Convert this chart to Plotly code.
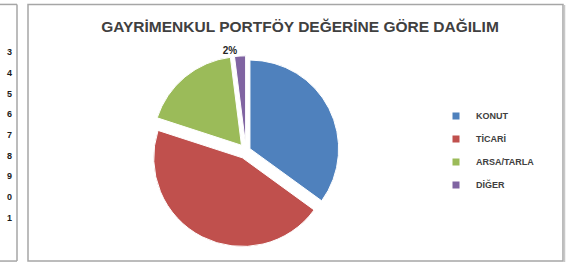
import plotly.graph_objects as go

W, H = 576, 268

# ---- data ----
categories = ["KONUT", "TİCARİ", "ARSA/TARLA", "DİĞER"]
values = [35, 45, 18, 2]
colors = ["#4F81BD", "#C0504D", "#9BBB59", "#8064A2"]
label_shown = ["none", "none", "none", "outside"]
pulls = [0.05, 0.09, 0.08, 0.07]
title_text = "GAYRİMENKUL PORTFÖY DEĞERİNE GÖRE DAĞILIM"
side_labels = ["3", "4", "5", "6", "7", "8", "9", "0", "1"]


def X(px):
    return px / W


def Y(py):
    return 1 - py / H


fig = go.Figure()

# pie geometry (pixels)
cx, cy, R = 246, 153, 90
half = R * (1 + max(pulls))

fig.add_trace(go.Pie(
    labels=categories, values=values, sort=False, direction="clockwise",
    rotation=0, pull=pulls,
    marker=dict(colors=colors, line=dict(color="white", width=1)),
    textinfo="percent", textposition=label_shown,
    outsidetextfont=dict(family="Liberation Sans", size=10, color="#262626", weight="bold"),
    domain=dict(x=[X(cx - half), X(cx + half)], y=[Y(cy + half), Y(cy - half)]),
    showlegend=False, hoverinfo="label+percent",
))

# legend entries
for name, col in zip(categories, colors):
    fig.add_trace(go.Scatter(
        x=[None], y=[None], mode="markers", name=name, legendgroup=name,
        marker=dict(symbol="square", size=7, color=col),
    ))

shapes = []
line_col = "#A6A6A6"
# chart frame
shapes.append(dict(type="rect", xref="paper", yref="paper",
                   x0=X(28), x1=X(563), y0=Y(265), y1=Y(4.5),
                   line=dict(color=line_col, width=1.5), fillcolor="rgba(0,0,0,0)"))
shapes.append(dict(type="line", xref="paper", yref="paper",
                   x0=X(564.5), x1=X(564.5), y0=Y(266), y1=Y(5),
                   line=dict(color="#C8C8C8", width=1.5)))
# left neighbouring panel border
shapes.append(dict(type="line", xref="paper", yref="paper",
                   x0=X(17), x1=X(17), y0=Y(265), y1=Y(4.5),
                   line=dict(color=line_col, width=1.5)))
shapes.append(dict(type="line", xref="paper", yref="paper",
                   x0=0, x1=X(17), y0=Y(4.5), y1=Y(4.5),
                   line=dict(color=line_col, width=1.5)))
shapes.append(dict(type="line", xref="paper", yref="paper",
                   x0=0, x1=X(17), y0=Y(265), y1=Y(265),
                   line=dict(color=line_col, width=1.5)))

annotations = []
for i, t in enumerate(side_labels):
    annotations.append(dict(
        text=t, xref="paper", yref="paper", x=X(14), y=Y(53 + 21 * i),
        xanchor="right", yanchor="middle", showarrow=False,
        font=dict(family="Liberation Sans", size=9, color="#1a1a1a", weight="bold"),
    ))

fig.update_layout(
    width=W, height=H,
    margin=dict(l=0, r=0, t=0, b=0),
    paper_bgcolor="white", plot_bgcolor="white",
    title=dict(text=title_text, x=X(300), xanchor="center", y=Y(27), yanchor="middle",
               font=dict(family="Liberation Sans", size=15.5, color="#404040", weight="bold")),
    xaxis=dict(visible=False), yaxis=dict(visible=False),
    legend=dict(x=X(436), y=Y(103), xanchor="left", yanchor="top",
                font=dict(family="Liberation Sans", size=9, color="#404040", weight="bold"),
                tracegroupgap=4, bgcolor="rgba(0,0,0,0)"),
    shapes=shapes, annotations=annotations,
)

fig.write_html("out.html", config={"displayModeBar": False},
               post_script="document.body.style.margin='0px';")
